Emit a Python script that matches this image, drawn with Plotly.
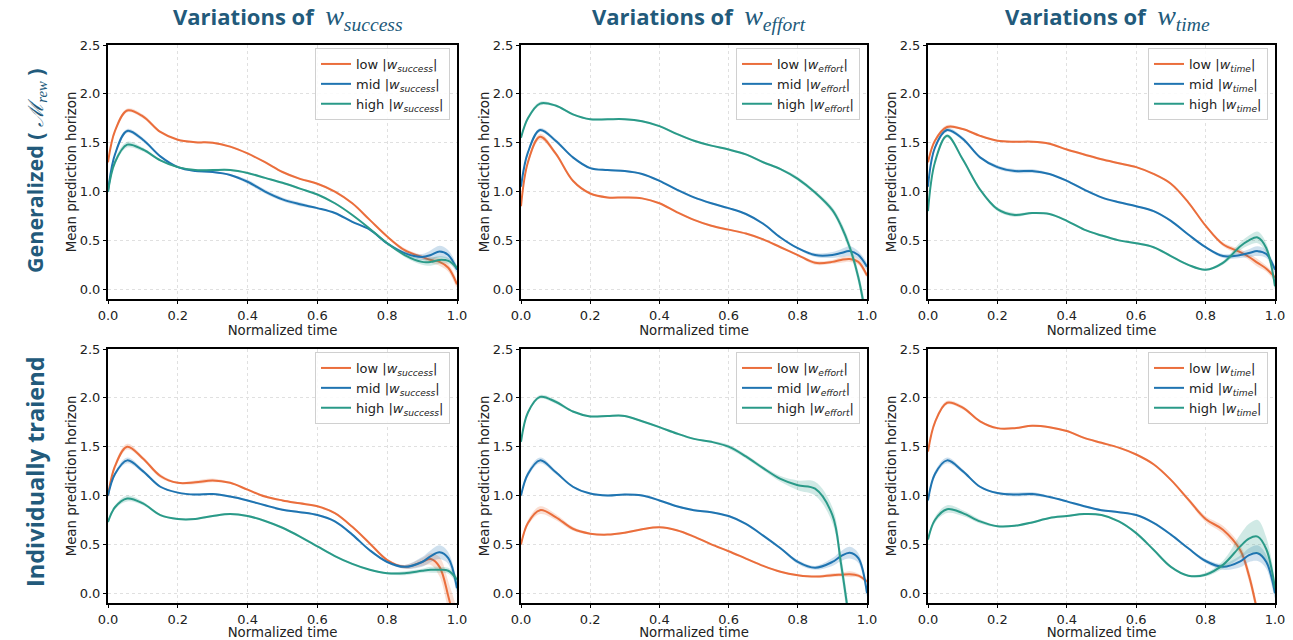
import plotly.graph_objects as go

# ---------------- data ----------------
X = [0, 0.02, 0.055, 0.1, 0.15, 0.2, 0.25, 0.3, 0.35, 0.4, 0.45, 0.5, 0.55, 0.6,
     0.65, 0.7, 0.75, 0.8, 0.85, 0.9, 0.925, 0.95, 0.975, 1.0]

LEVELS = ["low", "mid", "high"]
WEIGHTS = ["success", "effort", "time"]
ROW_LABELS = ["Generalized", "Individually traiend"]
X_TICKS = [0, 0.2, 0.4, 0.6, 0.8, 1.0]
Y_TICKS = [0, 0.5, 1.0, 1.5, 2.0, 2.5]

# Generalized (row 1)
GEN_SUCCESS_LOW = [1.3, 1.62, 1.83, 1.77, 1.61, 1.53, 1.505, 1.50, 1.46, 1.39, 1.30, 1.20, 1.13, 1.08, 1.00, 0.88, 0.71, 0.54, 0.40, 0.33, 0.30, 0.28, 0.22, 0.05]
GEN_SUCCESS_MID = [1.0, 1.38, 1.62, 1.53, 1.36, 1.25, 1.21, 1.20, 1.17, 1.10, 1.00, 0.92, 0.87, 0.83, 0.78, 0.69, 0.61, 0.47, 0.37, 0.33, 0.35, 0.385, 0.35, 0.20]
GEN_SUCCESS_HIGH = [1.0, 1.30, 1.48, 1.43, 1.32, 1.25, 1.22, 1.22, 1.22, 1.19, 1.14, 1.09, 1.03, 0.97, 0.88, 0.76, 0.62, 0.47, 0.35, 0.28, 0.28, 0.30, 0.29, 0.22]

GEN_EFFORT_LOW = [0.85, 1.30, 1.56, 1.39, 1.11, 0.98, 0.94, 0.94, 0.93, 0.88, 0.79, 0.71, 0.65, 0.61, 0.57, 0.51, 0.43, 0.35, 0.27, 0.28, 0.30, 0.31, 0.28, 0.14]
GEN_EFFORT_MID = [1.05, 1.40, 1.63, 1.52, 1.35, 1.24, 1.22, 1.21, 1.18, 1.11, 1.02, 0.94, 0.88, 0.83, 0.77, 0.67, 0.53, 0.42, 0.35, 0.35, 0.37, 0.39, 0.35, 0.23]
GEN_EFFORT_HIGH = [1.55, 1.75, 1.90, 1.88, 1.79, 1.74, 1.74, 1.74, 1.72, 1.67, 1.59, 1.52, 1.47, 1.43, 1.38, 1.30, 1.23, 1.13, 0.99, 0.81, 0.65, 0.43, 0.12, -0.35]

GEN_TIME_LOW = [1.3, 1.52, 1.66, 1.64, 1.57, 1.52, 1.51, 1.51, 1.49, 1.43, 1.38, 1.33, 1.29, 1.25, 1.18, 1.08, 0.89, 0.65, 0.46, 0.38, 0.33, 0.27, 0.21, 0.12]
GEN_TIME_MID = [1.05, 1.45, 1.63, 1.54, 1.35, 1.25, 1.21, 1.21, 1.18, 1.11, 1.02, 0.94, 0.89, 0.85, 0.80, 0.70, 0.56, 0.43, 0.34, 0.35, 0.37, 0.39, 0.36, 0.20]
GEN_TIME_HIGH = [0.8, 1.30, 1.57, 1.33, 1.02, 0.82, 0.76, 0.78, 0.77, 0.70, 0.61, 0.55, 0.50, 0.47, 0.43, 0.34, 0.25, 0.20, 0.27, 0.44, 0.50, 0.53, 0.42, 0.03]

# Individually trained (row 2)
IND_SUCCESS_LOW = [1.0, 1.30, 1.50, 1.38, 1.20, 1.13, 1.135, 1.155, 1.13, 1.06, 0.99, 0.95, 0.92, 0.89, 0.82, 0.68, 0.51, 0.34, 0.27, 0.32, 0.35, 0.27, -0.03, -0.40]
IND_SUCCESS_MID = [1.0, 1.22, 1.36, 1.25, 1.09, 1.03, 1.01, 1.015, 0.99, 0.95, 0.90, 0.855, 0.83, 0.80, 0.735, 0.60, 0.44, 0.32, 0.27, 0.32, 0.38, 0.42, 0.36, 0.05]
IND_SUCCESS_HIGH = [0.73, 0.88, 0.97, 0.92, 0.80, 0.76, 0.76, 0.79, 0.81, 0.79, 0.74, 0.67, 0.58, 0.48, 0.38, 0.30, 0.24, 0.205, 0.205, 0.23, 0.24, 0.24, 0.23, 0.14]

IND_EFFORT_LOW = [0.5, 0.72, 0.85, 0.78, 0.66, 0.61, 0.60, 0.62, 0.655, 0.675, 0.645, 0.58, 0.50, 0.43, 0.355, 0.28, 0.22, 0.185, 0.17, 0.185, 0.19, 0.195, 0.18, 0.12]
IND_EFFORT_MID = [1.0, 1.22, 1.36, 1.24, 1.09, 1.02, 1.00, 1.01, 1.00, 0.95, 0.89, 0.85, 0.83, 0.79, 0.71, 0.59, 0.46, 0.32, 0.26, 0.32, 0.38, 0.415, 0.36, 0.0]
IND_EFFORT_HIGH = [1.55, 1.85, 2.01, 1.96, 1.86, 1.81, 1.815, 1.815, 1.76, 1.70, 1.635, 1.58, 1.55, 1.50, 1.40, 1.28, 1.17, 1.105, 1.07, 0.80, 0.30, -0.30, -0.80, -1.30]

IND_TIME_LOW = [1.45, 1.75, 1.95, 1.90, 1.76, 1.69, 1.69, 1.715, 1.70, 1.66, 1.59, 1.54, 1.49, 1.42, 1.32, 1.16, 0.96, 0.76, 0.65, 0.44, 0.18, -0.20, -0.60, -1.00]
IND_TIME_MID = [0.95, 1.22, 1.36, 1.25, 1.09, 1.025, 1.01, 1.015, 0.985, 0.94, 0.89, 0.85, 0.83, 0.80, 0.72, 0.60, 0.46, 0.33, 0.27, 0.325, 0.39, 0.41, 0.32, 0.0]
IND_TIME_HIGH = [0.55, 0.75, 0.86, 0.82, 0.735, 0.685, 0.69, 0.725, 0.77, 0.79, 0.81, 0.80, 0.735, 0.615, 0.445, 0.27, 0.18, 0.19, 0.29, 0.48, 0.56, 0.58, 0.45, 0.05]

# half-widths of the shaded uncertainty bands
GEN_SUCCESS_LOW_CI = [0.02, 0.02, 0.02, 0.02, 0.01, 0.01, 0.01, 0.01, 0.01, 0.01, 0.01, 0.01, 0.01, 0.01, 0.01, 0.01, 0.01, 0.01, 0.02, 0.02, 0.03, 0.04, 0.04, 0.03]
GEN_SUCCESS_MID_CI = [0.02, 0.02, 0.02, 0.02, 0.01, 0.01, 0.01, 0.01, 0.01, 0.02, 0.02, 0.02, 0.02, 0.01, 0.01, 0.01, 0.01, 0.01, 0.02, 0.03, 0.05, 0.06, 0.05, 0.03]
GEN_SUCCESS_HIGH_CI = [0.02, 0.03, 0.03, 0.02, 0.01, 0.01, 0.01, 0.01, 0.01, 0.01, 0.01, 0.01, 0.01, 0.01, 0.01, 0.01, 0.01, 0.01, 0.02, 0.03, 0.04, 0.04, 0.03, 0.02]
GEN_EFFORT_LOW_CI = [0.02, 0.03, 0.03, 0.02, 0.01, 0.01, 0.01, 0.01, 0.01, 0.01, 0.01, 0.01, 0.01, 0.01, 0.01, 0.01, 0.01, 0.01, 0.02, 0.02, 0.03, 0.03, 0.03, 0.02]
GEN_EFFORT_MID_CI = [0.02, 0.02, 0.02, 0.02, 0.01, 0.01, 0.01, 0.01, 0.01, 0.01, 0.01, 0.01, 0.01, 0.01, 0.01, 0.01, 0.01, 0.01, 0.02, 0.03, 0.04, 0.05, 0.04, 0.03]
GEN_EFFORT_HIGH_CI = [0.02, 0.02, 0.02, 0.01, 0.01, 0.01, 0.01, 0.01, 0.01, 0.01, 0.01, 0.01, 0.01, 0.01, 0.01, 0.01, 0.01, 0.02, 0.02, 0.03, 0.04, 0.05, 0.06, 0.08]
GEN_TIME_LOW_CI = [0.02, 0.02, 0.02, 0.01, 0.01, 0.01, 0.01, 0.01, 0.01, 0.01, 0.01, 0.01, 0.01, 0.01, 0.01, 0.01, 0.01, 0.01, 0.02, 0.03, 0.03, 0.04, 0.03, 0.03]
GEN_TIME_MID_CI = [0.02, 0.02, 0.02, 0.02, 0.01, 0.02, 0.02, 0.02, 0.01, 0.01, 0.01, 0.01, 0.01, 0.01, 0.01, 0.01, 0.01, 0.01, 0.02, 0.03, 0.04, 0.05, 0.04, 0.03]
GEN_TIME_HIGH_CI = [0.02, 0.02, 0.02, 0.02, 0.01, 0.02, 0.02, 0.01, 0.01, 0.01, 0.01, 0.01, 0.01, 0.01, 0.01, 0.01, 0.01, 0.01, 0.02, 0.04, 0.05, 0.06, 0.05, 0.03]
IND_SUCCESS_LOW_CI = [0.02, 0.03, 0.03, 0.02, 0.02, 0.01, 0.02, 0.02, 0.01, 0.01, 0.01, 0.01, 0.01, 0.01, 0.01, 0.01, 0.01, 0.01, 0.02, 0.04, 0.06, 0.10, 0.15, 0.20]
IND_SUCCESS_MID_CI = [0.02, 0.02, 0.03, 0.02, 0.01, 0.01, 0.01, 0.01, 0.01, 0.01, 0.01, 0.01, 0.01, 0.01, 0.01, 0.01, 0.01, 0.01, 0.02, 0.05, 0.06, 0.07, 0.06, 0.04]
IND_SUCCESS_HIGH_CI = [0.02, 0.02, 0.03, 0.02, 0.01, 0.01, 0.01, 0.01, 0.01, 0.01, 0.01, 0.01, 0.01, 0.01, 0.01, 0.01, 0.01, 0.01, 0.02, 0.02, 0.03, 0.03, 0.03, 0.03]
IND_EFFORT_LOW_CI = [0.02, 0.03, 0.04, 0.03, 0.02, 0.01, 0.01, 0.01, 0.01, 0.01, 0.01, 0.01, 0.01, 0.01, 0.01, 0.01, 0.01, 0.01, 0.01, 0.02, 0.02, 0.03, 0.02, 0.02]
IND_EFFORT_MID_CI = [0.02, 0.03, 0.03, 0.02, 0.01, 0.01, 0.01, 0.01, 0.01, 0.01, 0.01, 0.01, 0.01, 0.01, 0.01, 0.01, 0.01, 0.02, 0.02, 0.04, 0.05, 0.06, 0.05, 0.03]
IND_EFFORT_HIGH_CI = [0.02, 0.02, 0.02, 0.02, 0.01, 0.01, 0.01, 0.01, 0.01, 0.01, 0.01, 0.01, 0.01, 0.02, 0.02, 0.02, 0.03, 0.05, 0.07, 0.08, 0.10, 0.10, 0.10, 0.10]
IND_TIME_LOW_CI = [0.02, 0.02, 0.02, 0.02, 0.01, 0.01, 0.01, 0.01, 0.01, 0.01, 0.01, 0.01, 0.01, 0.01, 0.01, 0.01, 0.02, 0.03, 0.04, 0.05, 0.06, 0.06, 0.06, 0.06]
IND_TIME_MID_CI = [0.02, 0.03, 0.03, 0.02, 0.01, 0.01, 0.02, 0.02, 0.01, 0.01, 0.01, 0.01, 0.01, 0.01, 0.01, 0.01, 0.01, 0.02, 0.03, 0.06, 0.07, 0.08, 0.07, 0.05]
IND_TIME_HIGH_CI = [0.02, 0.03, 0.04, 0.03, 0.02, 0.01, 0.01, 0.01, 0.01, 0.01, 0.01, 0.01, 0.01, 0.01, 0.01, 0.01, 0.01, 0.02, 0.04, 0.12, 0.15, 0.17, 0.12, 0.06]

PANELS = [
    [(GEN_SUCCESS_LOW, GEN_SUCCESS_LOW_CI), (GEN_SUCCESS_MID, GEN_SUCCESS_MID_CI), (GEN_SUCCESS_HIGH, GEN_SUCCESS_HIGH_CI)],
    [(GEN_EFFORT_LOW, GEN_EFFORT_LOW_CI), (GEN_EFFORT_MID, GEN_EFFORT_MID_CI), (GEN_EFFORT_HIGH, GEN_EFFORT_HIGH_CI)],
    [(GEN_TIME_LOW, GEN_TIME_LOW_CI), (GEN_TIME_MID, GEN_TIME_MID_CI), (GEN_TIME_HIGH, GEN_TIME_HIGH_CI)],
    [(IND_SUCCESS_LOW, IND_SUCCESS_LOW_CI), (IND_SUCCESS_MID, IND_SUCCESS_MID_CI), (IND_SUCCESS_HIGH, IND_SUCCESS_HIGH_CI)],
    [(IND_EFFORT_LOW, IND_EFFORT_LOW_CI), (IND_EFFORT_MID, IND_EFFORT_MID_CI), (IND_EFFORT_HIGH, IND_EFFORT_HIGH_CI)],
    [(IND_TIME_LOW, IND_TIME_LOW_CI), (IND_TIME_MID, IND_TIME_MID_CI), (IND_TIME_HIGH, IND_TIME_HIGH_CI)],
]

# ---------------- style ----------------
W, H = 1293, 640
COLORS = ["#ea6e3c", "#1f74b1", "#2a9a88"]
FILLS = ["rgba(234,110,60,0.22)", "rgba(31,116,177,0.22)", "rgba(42,154,136,0.22)"]
HEAD_COLOR = "#225a7b"
SANS = "DejaVu Sans"
BOLD = "Open Sans"
SERIF = "Liberation Serif"

XDOM = [(108, 457), (521, 867), (928, 1275)]   # pixels
YDOM = [(45, 299), (349, 603)]                  # pixels, top->bottom

fig = go.Figure()

for p in range(6):
    r, c = divmod(p, 3)
    ax = "" if p == 0 else str(p + 1)
    leg = "legend" if p == 0 else f"legend{p + 1}"
    w = WEIGHTS[c]
    for k, (vals, ci) in enumerate(PANELS[p]):
        upper = [v + e for v, e in zip(vals, ci)]
        lower = [v - e for v, e in zip(vals, ci)]
        fig.add_trace(go.Scatter(
            x=X + X[::-1], y=upper + lower[::-1], fill="toself",
            fillcolor=FILLS[k], line=dict(width=0, shape="spline", smoothing=1),
            mode="lines", showlegend=False, hoverinfo="skip",
            xaxis="x" + ax, yaxis="y" + ax))
        fig.add_trace(go.Scatter(
            x=X, y=vals, mode="lines",
            line=dict(color=COLORS[k], width=2, shape="spline", smoothing=1),
            name=f"{LEVELS[k]} |<i>w</i><sub><i>{w}</i></sub>|",
            legend=leg, xaxis="x" + ax, yaxis="y" + ax))

layout = dict(
    template="none",
    width=W, height=H, margin=dict(l=0, r=0, t=0, b=0, autoexpand=False),
    paper_bgcolor="white", plot_bgcolor="white",
    font=dict(family=SANS, size=13, color="#222"),
)

for p in range(6):
    r, c = divmod(p, 3)
    ax = "" if p == 0 else str(p + 1)
    x0, x1 = XDOM[c]
    yt, yb = YDOM[r]
    common = dict(showline=True, mirror=True, linecolor="black", linewidth=2,
                  ticks="outside", ticklen=3, tickwidth=1.2, tickcolor="black",
                  showgrid=True, gridcolor="#e0e0e0", griddash="dot", gridwidth=1,
                  zeroline=False, automargin=False,
                  tickfont=dict(family=SANS, size=13, color="#222"),
                  tickformat=".1f")
    layout["xaxis" + ax] = dict(common, domain=[x0 / W, x1 / W], anchor="y" + ax,
                                range=[0, 1], tickvals=X_TICKS,
                                title=dict(text="Normalized time", standoff=0,
                                           font=dict(family=SANS, size=13.3)))
    layout["yaxis" + ax] = dict(common, domain=[1 - yb / H, 1 - yt / H], anchor="x" + ax,
                                range=[-0.1, 2.5], tickvals=Y_TICKS,
                                title=dict(text="Mean prediction horizon", standoff=0,
                                           font=dict(family=SANS, size=13.3)))
    leg = "legend" if p == 0 else f"legend{p + 1}"
    layout[leg] = dict(x=(x1 - 7) / W, xanchor="right", y=1 - (yt + 3) / H, yanchor="top",
                       xref="paper", yref="paper",
                       bgcolor="rgba(255,255,255,0.85)", bordercolor="#d0d0d0", borderwidth=1,
                       font=dict(family=SANS, size=13, color="#222"),
                       itemwidth=30, tracegroupgap=0)

fig.update_layout(**layout)

# column titles
TITLE_X = [288, 699, 1107]
for c in range(3):
    fig.add_annotation(
        x=TITLE_X[c] / W, y=1 - 18 / H, xref="paper", yref="paper", showarrow=False,
        xanchor="center", yanchor="middle",
        text=(f"<b>Variations of</b>  <span style='font-family:{SERIF};font-size:28px'>"
              f"<i>w</i><sub><i>{WEIGHTS[c]}</i></sub></span>"),
        font=dict(family=BOLD, size=22, color=HEAD_COLOR))

# row labels
fig.add_annotation(
    x=35 / W, y=1 - 171 / H, xref="paper", yref="paper", showarrow=False, textangle=-90,
    xanchor="center", yanchor="middle",
    text=(f"<b>{ROW_LABELS[0]} ( </b><span style='font-family:{SERIF};font-size:21px'>"
          f"<i>ℳ</i><sub><i>rew</i></sub></span> <b>)</b>"),
    font=dict(family=BOLD, size=21.5, color=HEAD_COLOR))
fig.add_annotation(
    x=35 / W, y=1 - 472 / H, xref="paper", yref="paper", showarrow=False, textangle=-90,
    xanchor="center", yanchor="middle",
    text=f"<b>{ROW_LABELS[1]}</b>",
    font=dict(family=BOLD, size=23.5, color=HEAD_COLOR))

fig.write_html("out.html", config={"displayModeBar": False},
               post_script="document.body.style.margin='0';document.body.style.overflow='hidden';")
